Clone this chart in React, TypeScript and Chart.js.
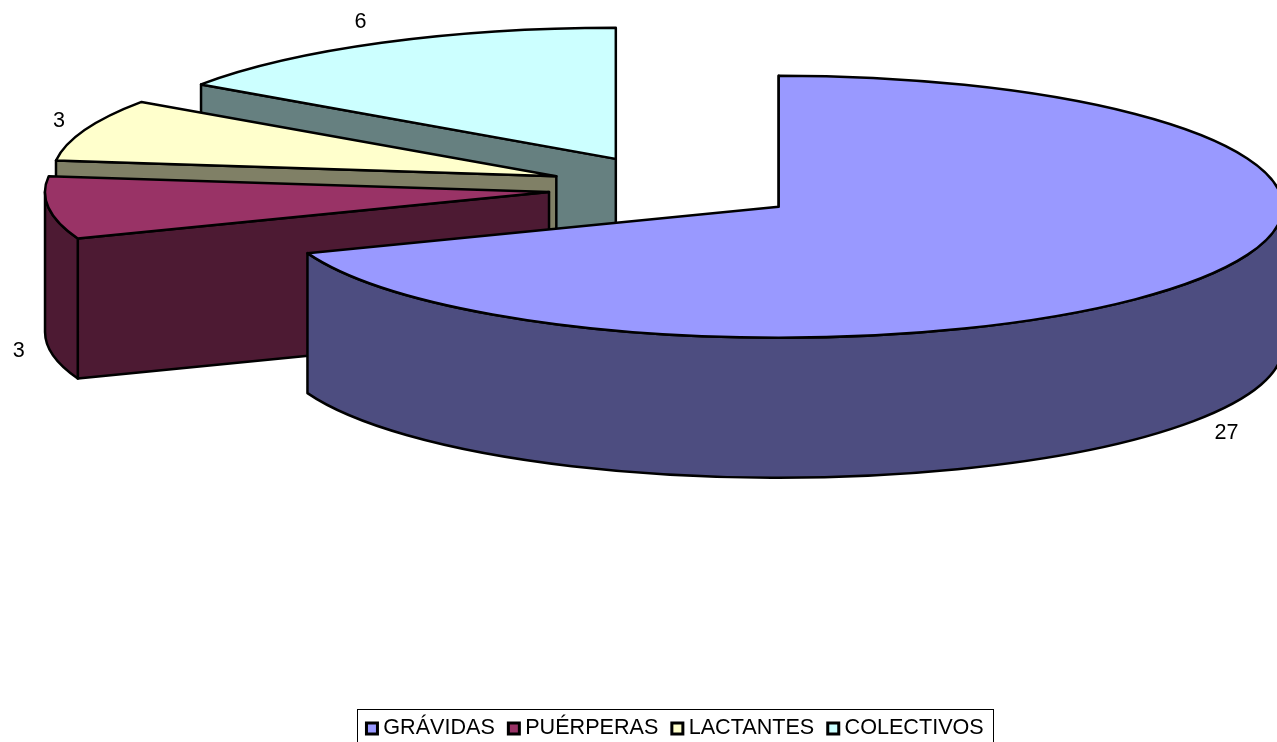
import React, { useEffect, useRef } from "react";
import { Chart, registerables } from "chart.js";

Chart.register(...registerables);

const categories = ["GRÁVIDAS", "PUÉRPERAS", "LACTANTES", "COLECTIVOS"];
const values = [27, 3, 3, 6];
const topColors = ["#9999FF", "#993366", "#FFFFCC", "#CCFFFF"];
const wallColors = ["#4D4D80", "#4D1A33", "#808066", "#668080"];
const labelNudges = [
  [33, 12],
  [-30, 3],
  [-26, -9],
  [-21, -21],
];

const FONT = '"Liberation Sans", Arial, sans-serif';
const LINE = 2.5;

const pie3d = {
  id: "pie3d",
  beforeDatasetDraw(chart: any, args: any, opts: any) {
    const { ctx } = chart;
    const arcs = chart.getDatasetMeta(args.index).data;
    const k = opts.tilt;
    const depth = opts.depth;
    const placed = arcs.map((arc: any) => {
      const mid = (arc.startAngle + arc.endAngle) / 2;
      return {
        a1: arc.startAngle,
        a2: arc.endAngle,
        mid,
        r: arc.outerRadius,
        x: arc.x + Math.cos(mid) * opts.explode,
        y: opts.centerY + Math.sin(mid) * opts.explode * k,
      };
    });
    ctx.save();
    ctx.lineWidth = LINE;
    ctx.lineJoin = "round";
    ctx.strokeStyle = "#000";
    const paint = (fill: string) => {
      ctx.fillStyle = fill;
      ctx.fill();
      ctx.stroke();
    };
    for (let i = placed.length - 1; i >= 0; i--) {
      const s = placed[i];
      const ry = s.r * k;
      const rim = (a: number) => [s.x + Math.cos(a) * s.r, s.y + Math.sin(a) * ry];
      const face = (a: number) => {
        const [px, py] = rim(a);
        ctx.beginPath();
        ctx.moveTo(s.x, s.y);
        ctx.lineTo(px, py);
        ctx.lineTo(px, py + depth);
        ctx.lineTo(s.x, s.y + depth);
        ctx.closePath();
        paint(wallColors[i]);
      };
      if (Math.cos(s.a1) < 1e-6) face(s.a1);
      if (Math.cos(s.a2) > 1e-6) face(s.a2);
      const lo = Math.max(s.a1, 0);
      const hi = Math.min(s.a2, Math.PI);
      if (hi > lo) {
        ctx.beginPath();
        ctx.ellipse(s.x, s.y, s.r, ry, 0, lo, hi, false);
        ctx.ellipse(s.x, s.y + depth, s.r, ry, 0, hi, lo, true);
        ctx.closePath();
        paint(wallColors[i]);
      }
      ctx.beginPath();
      ctx.moveTo(s.x, s.y);
      ctx.ellipse(s.x, s.y, s.r, ry, 0, s.a1, s.a2, false);
      ctx.closePath();
      paint(topColors[i]);
    }
    ctx.fillStyle = "#000";
    ctx.font = `21.6px ${FONT}`;
    ctx.textAlign = "center";
    ctx.textBaseline = "middle";
    placed.forEach((s: any, i: number) => {
      const lower = Math.sin(s.mid) > 0;
      const px = s.x + Math.cos(s.mid) * s.r + labelNudges[i][0];
      const py = s.y + Math.sin(s.mid) * s.r * k + (lower ? depth : 0) + labelNudges[i][1];
      ctx.fillText(String(values[i]), px, py);
    });
    ctx.restore();
    return false;
  },
  afterDraw(chart: any) {
    const { ctx, legend } = chart;
    const boxes = legend.legendHitBoxes;
    if (!boxes || !boxes.length) return;
    ctx.save();
    const first = boxes[0];
    const last = boxes[boxes.length - 1];
    ctx.strokeStyle = "#000";
    ctx.lineWidth = 1;
    const left = Math.round(first.left - 8) + 0.5;
    const right = Math.round(last.left + last.width + 9) + 0.5;
    const top = Math.round(legend.top + 4) + 0.5;
    ctx.strokeRect(left, top, right - left, 100);
    ctx.lineWidth = 3;
    boxes.forEach((b: any, i: number) => {
      const h = 11;
      const y = Math.round(b.top + b.height / 2 - h / 2);
      ctx.fillStyle = topColors[i];
      ctx.fillRect(b.left + 1, y, h, h);
      ctx.strokeRect(b.left + 1, y, h, h);
    });
    ctx.restore();
  },
};

export default function App() {
  const ref = useRef<HTMLCanvasElement>(null);
  useEffect(() => {
    document.body.style.margin = "0";
    const chart = new Chart(ref.current!, {
      type: "pie",
      data: {
        labels: categories,
        datasets: [
          {
            data: values,
            backgroundColor: topColors,
            borderColor: "#000",
            borderWidth: 0,
            radius: 504,
          } as any,
        ],
      },
      plugins: [pie3d],
      options: {
        responsive: false,
        animation: false,
        events: [],
        layout: { padding: { left: 72.2, right: 0, top: 0, bottom: -7 } },
        plugins: {
          tooltip: { enabled: false },
          title: { display: false },
          pie3d: { tilt: 0.26, depth: 140, explode: 126.5, centerY: 188 },
          legend: {
            position: "bottom",
            labels: {
              color: "#000",
              boxWidth: 7,
              boxHeight: 11,
              padding: 12.5,
              font: { family: FONT, size: 21.6 },
              generateLabels: (c: any) =>
                (c.data.labels as string[]).map((text, index) => ({
                  text,
                  index,
                  fillStyle: "rgba(0,0,0,0)",
                  strokeStyle: "rgba(0,0,0,0)",
                  lineWidth: 0,
                  hidden: false,
                })),
            },
          },
        } as any,
      },
    });
    return () => chart.destroy();
  }, []);
  return <canvas ref={ref} width={1277} height={742} style={{ display: "block" }} />;
}
